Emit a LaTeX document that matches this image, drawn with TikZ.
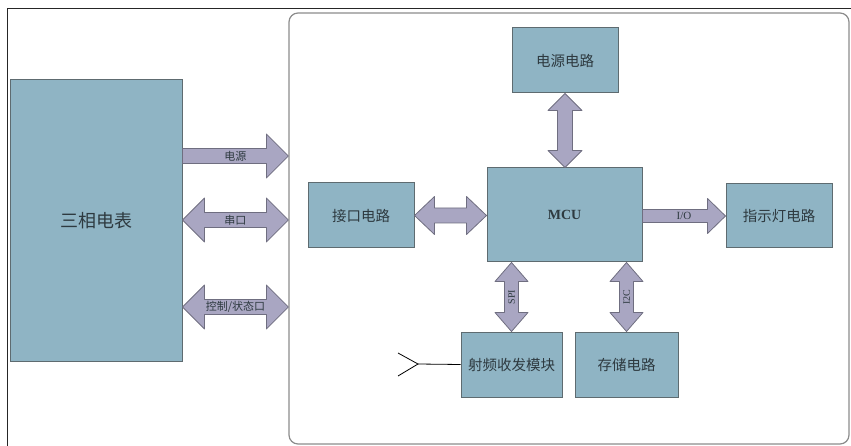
\documentclass[tikz,border=0pt]{standalone}
\usepackage{fontspec}
\setmainfont{Liberation Serif}
\newfontfamily\cjk{Noto Sans CJK SC}
\usetikzlibrary{calc,positioning}
\definecolor{boxfill}{HTML}{8FB4C4}
\definecolor{boxline}{HTML}{5E6B70}
\definecolor{arrfill}{HTML}{A9A6C2}
\definecolor{arrline}{HTML}{6F6E80}
\definecolor{panline}{HTML}{8C8C8C}
\definecolor{txt}{HTML}{2E3A40}

\tikzset{
  head len/.store in=\hdlen, head wid/.store in=\hdwid, shaft wid/.store in=\shwid,
  head len=22pt, head wid=22pt, shaft wid=7.5pt,
  blk/.style={draw=boxline, fill=boxfill, line width=1pt, inner sep=0pt, text=txt,
    font=\cjk\fontsize{14.5}{16}\selectfont},
  lbl/.style={inner sep=0pt, text=txt, font=\cjk\fontsize{11}{13}\selectfont},
  dblarrow/.style={draw=arrline, fill=arrfill, line width=0.8pt, line join=round, to path={
    -- ($(\tikztostart)!\hdlen!(\tikztotarget)!\hdwid!90:(\tikztotarget)$)
    -- ($(\tikztostart)!\hdlen!(\tikztotarget)!\shwid!90:(\tikztotarget)$)
    -- ($(\tikztotarget)!\hdlen!(\tikztostart)!\shwid!-90:(\tikztostart)$)
    -- ($(\tikztotarget)!\hdlen!(\tikztostart)!\hdwid!-90:(\tikztostart)$)
    -- (\tikztotarget)
    -- ($(\tikztotarget)!\hdlen!(\tikztostart)!\hdwid!90:(\tikztostart)$)
    -- ($(\tikztotarget)!\hdlen!(\tikztostart)!\shwid!90:(\tikztostart)$)
    -- ($(\tikztostart)!\hdlen!(\tikztotarget)!\shwid!-90:(\tikztotarget)$)
    -- ($(\tikztostart)!\hdlen!(\tikztotarget)!\hdwid!-90:(\tikztotarget)$)
    -- cycle}},
  sglarrow/.style={draw=arrline, fill=arrfill, line width=0.8pt, line join=round, to path={
    -- ($(\tikztostart)!\shwid!90:(\tikztotarget)$)
    -- ($(\tikztotarget)!\hdlen!(\tikztostart)!\shwid!-90:(\tikztostart)$)
    -- ($(\tikztotarget)!\hdlen!(\tikztostart)!\hdwid!-90:(\tikztostart)$)
    -- (\tikztotarget)
    -- ($(\tikztotarget)!\hdlen!(\tikztostart)!\hdwid!90:(\tikztostart)$)
    -- ($(\tikztotarget)!\hdlen!(\tikztostart)!\shwid!90:(\tikztostart)$)
    -- ($(\tikztostart)!\shwid!-90:(\tikztotarget)$)
    -- cycle}}
}

\begin{document}
\begin{tikzpicture}[x=1pt,y=-1pt]
\useasboundingbox (0,0) rectangle (851,446);
% frames
\draw [black!85, line width=1pt] (7,9) rectangle (870,470);
\node [draw=panline, line width=1.2pt, rounded corners=9pt, minimum width=560pt, minimum height=431pt, inner sep=0pt] (panel) at (569,228.5) {};

% blocks
\node [blk, minimum width=172pt, minimum height=281pt, font=\cjk\fontsize{18}{20}\selectfont] (meter) at (96,220.5) {三相电表};
\node [blk, minimum width=106pt, minimum height=65pt] (dy) at (565,60.5) {电源电路};
\node [blk, minimum width=155pt, minimum height=94pt, font=\bfseries\fontsize{14}{16}\selectfont] (mcu) at (564.5,215) {MCU};
\node [blk, minimum width=106pt, minimum height=65pt] (jk) at (361,215.5) {接口电路};
\node [blk, minimum width=106pt, minimum height=64pt] (zsd) at (779,216) {指示灯电路};
\node [blk, minimum width=101pt, minimum height=65pt] (rf) at (511.5,364.5) {射频收发模块};
\node [blk, minimum width=103pt, minimum height=65pt] (cc) at (626.5,364.5) {存储电路};

% meter side
\coordinate (m1) at (meter.east |- 0,156);
\coordinate (p1) at (panel.west |- 0,156);
\coordinate (m2) at (meter.east |- 0,220);
\coordinate (p2) at (panel.west |- 0,220);
\coordinate (m3) at (meter.east |- 0,307);
\coordinate (p3) at (panel.west |- 0,307);
\draw [sglarrow] (m1) to (p1);
\draw [dblarrow] (m2) to (p2);
\draw [dblarrow] (m3) to (p3);
\node [lbl] (l1) at ($(m1)!.5!(p1)$) {电源};
\node [lbl] (l2) at ($(m2)!.5!(p2)$) {串口};
\node [lbl] (l3) at ($(m3)!.5!(p3)$) {控制/状态口};

% inside the panel
\coordinate (mj) at (mcu.west |- jk.east);
\coordinate (md) at (mcu.north -| dy.south);
\coordinate (mz) at (mcu.east |- zsd.west);
\coordinate (mr) at (mcu.south -| rf.north);
\coordinate (mc) at (mcu.south -| cc.north);
\draw [dblarrow, head len=20pt, head wid=19pt] (jk.east) to (mj);
\draw [dblarrow, head len=17pt, head wid=17pt] (dy.south) to (md);
\draw [sglarrow, head len=18pt, head wid=17.5pt, shaft wid=6.5pt] (mz) to (zsd.west);
\draw [dblarrow, head len=19pt, head wid=16.5pt, shaft wid=7pt] (mr) to (rf.north);
\draw [dblarrow, head len=19pt, head wid=16.5pt, shaft wid=7pt] (mc) to (cc.north);
\node [lbl, font=\fontsize{11}{13}\selectfont] (l4) at ($(mz)!.5!(zsd.west)$) {I/O};
\node [lbl, font=\fontsize{10}{12}\selectfont, rotate=90] (l5) at ($(mr)!.5!(rf.north)$) {SPI};
\node [lbl, font=\fontsize{10}{12}\selectfont, rotate=90] (l6) at ($(mc)!.5!(cc.north)$) {I2C};

% antenna
\coordinate (ant) at (418,364);
\draw [black, line width=0.8pt] (398,353) -- (ant) -- (398,376);
\draw [black, line width=0.8pt] (ant) -- (rf.west);
\end{tikzpicture}
\end{document}
